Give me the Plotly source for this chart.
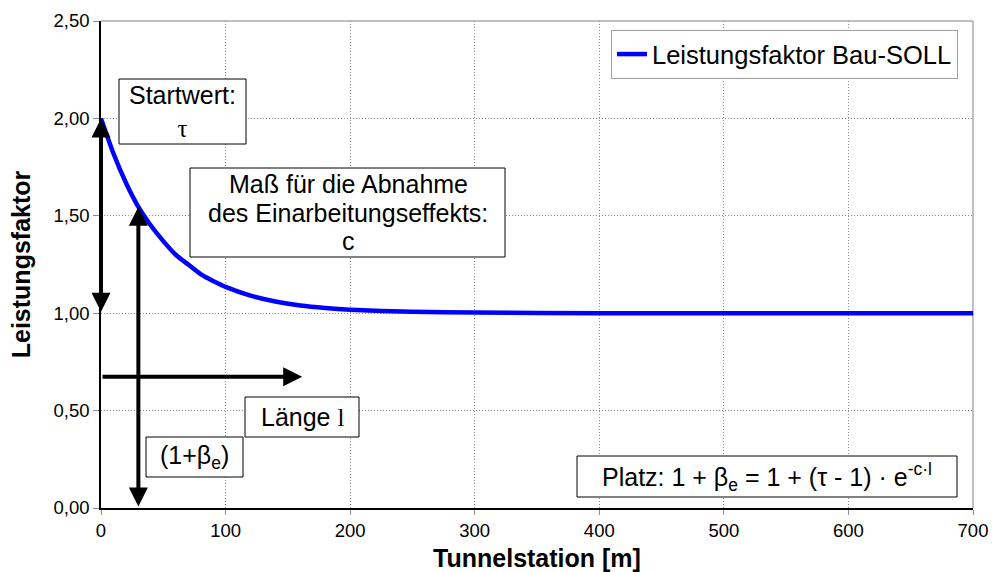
import plotly.graph_objects as go

# Tunnel station [m] and performance factor
station = [0, 10, 20, 30, 40, 50, 60, 70, 80, 90, 100, 120, 140, 160, 180,
           200, 250, 300, 400, 500, 600, 700]
factor = [2.00, 1.82, 1.67, 1.546, 1.45, 1.37, 1.30, 1.25, 1.20, 1.165, 1.135,
          1.09, 1.06, 1.04, 1.027, 1.018, 1.007, 1.003, 1.0, 1.0, 1.0, 1.0]

x_ticks = [0, 100, 200, 300, 400, 500, 600, 700]
y_ticks = [0.0, 0.5, 1.0, 1.5, 2.0, 2.5]

tau = factor[0]          # start value
asymptote = factor[-1]   # final value
l_mark = station[3]      # station used to illustrate the length l
l_value = factor[3]      # factor at that station
arrow_y = 0.674          # level of the horizontal "Länge" arrow
arrow_x_end = 161.5

FONT = "Liberation Sans"
SERIF = "Liberation Serif"
W, H = 992, 572
ML, MR, MT, MB = 101, 19, 21, 64
PW, PH = W - ML - MR, H - MT - MB


def px(xpix):
    return (xpix - ML) / PW


def py(ypix):
    return (H - MB - ypix) / PH


fig = go.Figure()
fig.add_trace(go.Scatter(
    x=station, y=factor, mode="lines", name="Leistungsfaktor Bau-SOLL",
    line=dict(color="#0000ff", width=4.5, shape="spline", smoothing=0.6),
))

ann = []
shapes = []


def arrow(x, y, ax, ay, both=True):
    ann.append(dict(
        x=x, y=y, ax=ax, ay=ay, xref="x", yref="y", axref="x", ayref="y",
        showarrow=True, arrowhead=2, arrowsize=0.95, arrowwidth=4,
        arrowcolor="black", arrowside="end+start" if both else "end",
        standoff=0, startstandoff=0, text="",
    ))


# tau -> 1 at station 0
arrow(0, tau, 0, asymptote)
# (1 + beta_e) at station l
arrow(l_mark, l_value, l_mark, 0)
# length l
arrow(arrow_x_end, arrow_y, 0, arrow_y, both=False)


def frame(x0, y0, x1, y1):
    shapes.append(dict(
        type="rect", xref="paper", yref="paper",
        x0=px(x0), x1=px(x1), y0=py(y1), y1=py(y0),
        line=dict(color="black", width=1), fillcolor="white", layer="above",
    ))


def label(xc, yc, text, size=25):
    ann.append(dict(
        x=px(xc), y=py(yc), xref="paper", yref="paper",
        xanchor="center", yanchor="middle", text=text, showarrow=False,
        align="center", font=dict(family=FONT, size=size, color="black"),
    ))


frame(119, 79, 246, 144)
label(182.5, 111.5,
      "Startwert:<br><span style=\"font-family:'%s'\">τ</span>" % SERIF)

frame(190, 168, 505, 257)
label(348, 184, "Maß für die Abnahme")
label(348, 213, "des Einarbeitungseffekts:")
label(348, 241, "c")

frame(245, 397, 359, 437)
label(302, 417, "Länge <span style=\"font-family:'%s'\">l</span>" % SERIF)

frame(146, 437, 243, 477)
label(194.5, 457, "(1+β<sub>e</sub>)")

frame(577, 456, 957, 497)
label(767, 476.5, "Platz: 1 + β<sub>e</sub> = 1 + (τ - 1) · e<sup>-c·l</sup>")

# thin frame on the top and right edges of the plot area
shapes.append(dict(type="line", xref="paper", yref="paper", x0=0, x1=1, y0=1, y1=1,
                   line=dict(color="#808080", width=1), layer="below"))
shapes.append(dict(type="line", xref="paper", yref="paper", x0=1, x1=1, y0=0, y1=1,
                   line=dict(color="#808080", width=1), layer="below"))

GRID = "#8c8c8c"

fig.update_layout(
    width=W, height=H,
    margin=dict(l=ML, r=MR, t=MT, b=MB),
    paper_bgcolor="white", plot_bgcolor="white",
    separators=",.",
    font=dict(family=FONT, size=18.5, color="black"),
    annotations=ann,
    shapes=shapes,
    showlegend=True,
    legend=dict(
        x=px(958), y=py(30), xanchor="right", yanchor="top",
        bordercolor="#a0a0a0", borderwidth=1, bgcolor="white",
        font=dict(family=FONT, size=25.5, color="black"),
        itemwidth=30,
    ),
)

fig.update_xaxes(
    range=[0, 700], tickvals=x_ticks, ticktext=[str(v) for v in x_ticks],
    showgrid=True, gridcolor=GRID, griddash="1px,2px", gridwidth=1,
    showline=True, linecolor="black", linewidth=1.5,
    ticks="outside", ticklen=5, tickcolor=GRID,
    tickfont=dict(family=FONT, size=18.5),
    title=dict(text="<b>Tunnelstation [m]</b>", font=dict(family=FONT, size=25), standoff=10),
    zeroline=False, automargin=False,
)
fig.update_yaxes(
    range=[0, 2.5], tickvals=y_ticks, tickformat=".2f",
    showgrid=True, gridcolor=GRID, griddash="1px,2px", gridwidth=1,
    showline=True, linecolor="black", linewidth=1.5,
    ticks="outside", ticklen=6, tickcolor=GRID,
    tickfont=dict(family=FONT, size=18.5),
    title=dict(text="<b>Leistungsfaktor</b>", font=dict(family=FONT, size=25), standoff=16),
    zeroline=False, automargin=False,
)

fig.write_html("out.html")
